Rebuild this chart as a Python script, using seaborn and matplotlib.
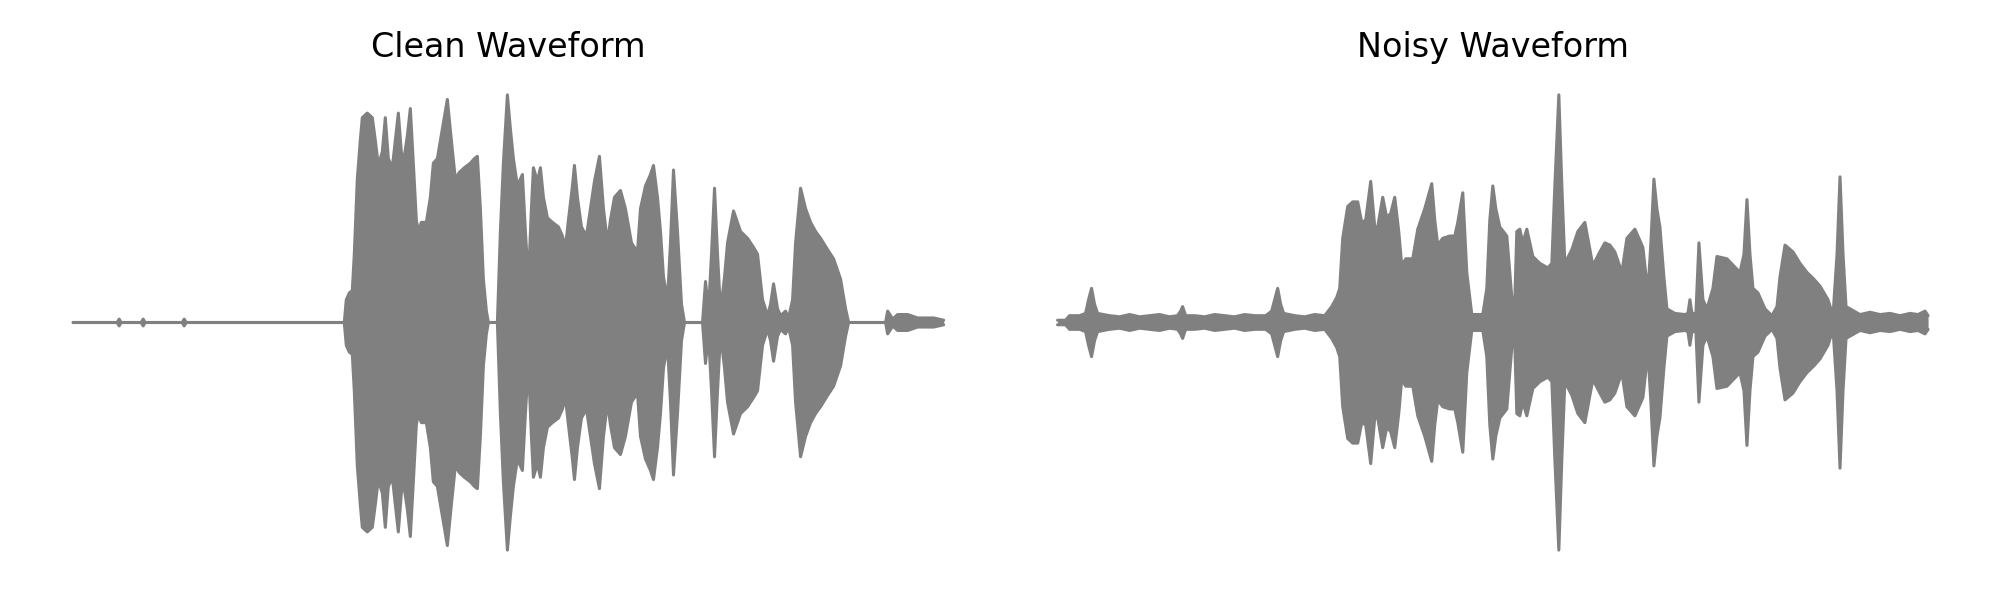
import matplotlib
matplotlib.use("Agg")
import matplotlib.pyplot as plt
import numpy as np
import pandas as pd
import seaborn as sns

# envelope of each waveform: time (ms) and peak amplitude (fraction of full scale)
clean_time = [
    0, 176, 184, 192, 272, 280, 288, 436, 444, 452, 1084, 1092, 1104, 1116,
    1124, 1136, 1148, 1156, 1176, 1196, 1208, 1220, 1236, 1248, 1260, 1276,
    1288, 1300, 1312, 1320, 1336, 1348, 1360, 1372, 1380, 1392, 1412, 1428,
    1440, 1456, 1476, 1496, 1512, 1528, 1544, 1564, 1588, 1604, 1616, 1628,
    1640, 1652, 1660, 1696, 1708, 1720, 1736, 1748, 1760, 1776, 1796, 1808,
    1820, 1832, 1840, 1856, 1868, 1880, 1896, 1916, 1940, 1956, 1968, 1980,
    1996, 2004, 2016, 2032, 2052, 2068, 2084, 2104, 2120, 2136, 2148, 2164,
    2188, 2208, 2232, 2256, 2268, 2288, 2308, 2320, 2336, 2348, 2360, 2376,
    2388, 2400, 2416, 2432, 2444, 2516, 2528, 2540, 2552, 2564, 2576, 2588,
    2604, 2616, 2640, 2668, 2696, 2720, 2736, 2756, 2776, 2788, 2800, 2816,
    2828, 2848, 2860, 2876, 2888, 2908, 2928, 2948, 2968, 2988, 3016, 3040,
    3068, 3088, 3100, 3248, 3256, 3268, 3276, 3296, 3336, 3376, 3440, 3480,
]
clean_amp = [
    0, 0, 0.015, 0, 0, 0.015, 0, 0, 0.015, 0, 0, 0.1, 0.13, 0.14,
    0.3, 0.63, 0.8, 0.9, 0.92, 0.9, 0.8, 0.69, 0.75, 0.9, 0.72, 0.68,
    0.8, 0.92, 0.75, 0.7, 0.82, 0.94, 0.7, 0.45, 0.4, 0.44, 0.44, 0.55,
    0.7, 0.72, 0.85, 0.98, 0.8, 0.63, 0.66, 0.68, 0.7, 0.72, 0.73, 0.5,
    0.19, 0.05, 0, 0, 0.4, 0.7, 1.0, 0.85, 0.72, 0.6, 0.65, 0.4,
    0.18, 0.5, 0.68, 0.62, 0.68, 0.55, 0.46, 0.44, 0.42, 0.38, 0.33, 0.45,
    0.6, 0.69, 0.55, 0.42, 0.38, 0.5, 0.62, 0.73, 0.5, 0.35, 0.45, 0.55,
    0.58, 0.5, 0.35, 0.31, 0.5, 0.6, 0.65, 0.69, 0.55, 0.4, 0.2, 0.1,
    0.35, 0.67, 0.4, 0.08, 0, 0, 0.18, 0.05, 0.3, 0.59, 0.3, 0.05,
    0.2, 0.35, 0.49, 0.4, 0.37, 0.33, 0.3, 0.1, 0.03, 0.08, 0.17, 0.06,
    0.03, 0.05, 0.02, 0.1, 0.35, 0.59, 0.5, 0.44, 0.4, 0.37, 0.32, 0.28,
    0.19, 0.06, 0, 0, 0.05, 0.03, 0.015, 0.035, 0.035, 0.02, 0.02, 0.01,
]

noisy_time = [
    0, 32, 48, 88, 112, 124, 136, 148, 160, 208, 248, 288, 328, 368, 408,
    448, 480, 492, 500, 512, 548, 588, 628, 668, 708, 748, 788, 832, 856,
    868, 880, 892, 904, 948, 988, 1028, 1068, 1096, 1116, 1128, 1140, 1160,
    1180, 1200, 1216, 1232, 1252, 1268, 1280, 1300, 1316, 1332, 1348, 1364,
    1376, 1392, 1420, 1440, 1468, 1496, 1508, 1520, 1540, 1568, 1588, 1600,
    1620, 1636, 1656, 1700, 1716, 1728, 1740, 1752, 1768, 1796, 1816, 1828,
    1836, 1848, 1860, 1876, 1900, 1928, 1960, 1976, 1988, 2004, 2016, 2028,
    2056, 2080, 2108, 2128, 2140, 2168, 2188, 2208, 2228, 2256, 2276, 2308,
    2340, 2360, 2372, 2384, 2396, 2408, 2424, 2436, 2468, 2508, 2520, 2528,
    2536, 2552, 2564, 2580, 2596, 2620, 2636, 2676, 2728, 2744, 2756, 2768,
    2780, 2800, 2828, 2856, 2876, 2888, 2908, 2940, 2968, 2996, 3024, 3048,
    3080, 3100, 3116, 3128, 3140, 3152, 3168, 3208, 3248, 3288, 3328, 3368,
    3408, 3440, 3468, 3480,
]
noisy_amp = [
    0.01, 0.01, 0.03, 0.03, 0.04, 0.1, 0.15, 0.08, 0.04, 0.03, 0.025, 0.035,
    0.025, 0.03, 0.035, 0.025, 0.03, 0.05, 0.07, 0.03, 0.03, 0.025, 0.035,
    0.03, 0.025, 0.035, 0.03, 0.03, 0.05, 0.1, 0.15, 0.08, 0.04, 0.03,
    0.025, 0.035, 0.03, 0.07, 0.11, 0.15, 0.37, 0.51, 0.53, 0.53, 0.44,
    0.45, 0.62, 0.42, 0.42, 0.55, 0.46, 0.48, 0.55, 0.4, 0.25, 0.28, 0.28,
    0.41, 0.5, 0.61, 0.45, 0.34, 0.37, 0.38, 0.38, 0.44, 0.57, 0.22, 0.035,
    0.035, 0.15, 0.45, 0.6, 0.5, 0.42, 0.38, 0.11, 0.1, 0.4, 0.41, 0.35,
    0.41, 0.29, 0.26, 0.24, 0.26, 0.6, 1.0, 0.6, 0.26, 0.32, 0.4, 0.44,
    0.32, 0.25, 0.31, 0.35, 0.34, 0.31, 0.22, 0.37, 0.41, 0.33, 0.13, 0.35,
    0.63, 0.5, 0.42, 0.2, 0.06, 0.04, 0.035, 0.04, 0.1, 0.04, 0.04, 0.35,
    0.1, 0.06, 0.15, 0.29, 0.28, 0.22, 0.3, 0.54, 0.3, 0.15, 0.13, 0.06,
    0.03, 0.07, 0.2, 0.34, 0.31, 0.26, 0.22, 0.19, 0.16, 0.1, 0.03, 0.3,
    0.64, 0.3, 0.07, 0.06, 0.035, 0.045, 0.035, 0.04, 0.03, 0.04, 0.035,
    0.05, 0.03,
]

titles = ["Clean Waveform", "Noisy Waveform"]
color = "gray"

sns.set_theme(style="white")
plt.rcParams["font.family"] = ["DejaVu Sans"]

fig, axes = plt.subplots(1, 2, figsize=(20, 6), dpi=100)
fig.subplots_adjust(left=0.0148, right=0.9858, bottom=0.049, top=0.876,
                    wspace=0.028)

for ax, title, t, a in zip(axes, titles, [clean_time, noisy_time],
                           [clean_amp, noisy_amp]):
    df = pd.DataFrame({"time": t, "amp": a})
    ax.fill_between(df["time"], -df["amp"], df["amp"], color=color,
                    linewidth=0)
    sns.lineplot(data=df, x="time", y="amp", ax=ax, color=color,
                 linewidth=2.2, solid_capstyle="round")
    sns.lineplot(x=df["time"], y=-df["amp"], ax=ax, color=color,
                 linewidth=2.2, solid_capstyle="round")
    ax.set_xlim(-174, 3654)
    ax.set_ylim(-1.09, 1.09)
    ax.set_title(title, fontsize=24, pad=12.5, color="black")
    ax.axis("off")

fig.savefig("out.png", dpi=100)
plt.close(fig)
